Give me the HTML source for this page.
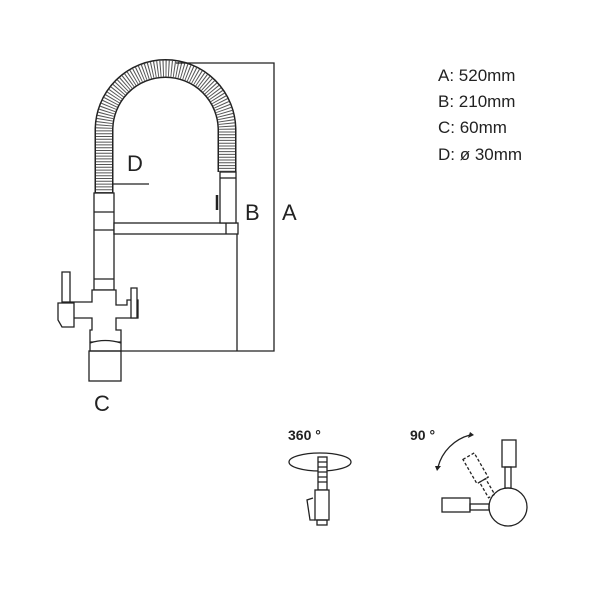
<!DOCTYPE html>
<html><head><meta charset="utf-8"><style>
body{margin:0;background:#fff}
svg{display:block}
text{font-family:"Liberation Sans",sans-serif;fill:#222}
</style></head><body>
<svg width="600" height="600" viewBox="0 0 600 600" xmlns="http://www.w3.org/2000/svg">
<g fill="none" stroke="#222" stroke-width="1.3">
<!-- hose -->
<path d="M104 193 V130 A61 61 0 0 1 227 130 V172" stroke="#222" stroke-width="19"/>
<path d="M104 193 V130 A61 61 0 0 1 227 130 V172" stroke="#fff" stroke-width="16"/>
<path d="M104 193 V130 A61 61 0 0 1 227 130 V172" stroke="#555" stroke-width="16" stroke-dasharray="1 1.8"/>
<!-- dims -->
<path d="M176 63 H274 V351 H120"/>
<path d="M237 234 V351"/>
<path d="M113 184 H149"/>
<!-- body -->
<rect x="94" y="193" width="20" height="97" fill="#fff"/>
<path d="M94 212 H114 M94 230 H114 M94 279 H114"/>
<rect x="114" y="223" width="124" height="11" fill="#fff"/>
<path d="M226 223 V234"/>
<rect x="220" y="172" width="16" height="51" fill="#fff"/>
<path d="M220 178 H236"/>
<path d="M217 195 V210" stroke-width="2.5"/>
<!-- valve -->
<path d="M92 290 H116 V305 H127 V300 H138 V318 H116 V330 H121 V342 H90 V330 H92 V318 H70 V302 H92 Z" fill="#fff"/>
<path d="M62 272 H70 V302 H62 Z M58 303 H74 V327 H62 L58 320 Z" fill="#fff"/>
<path d="M131 288 H137 V318 H131 Z" fill="#fff"/>
<path d="M90 343 Q105 338 121 343 V351 H90 Z" fill="#fff"/>
<rect x="89" y="351" width="32" height="30"/>
<!-- 360 icon -->
<ellipse cx="320" cy="462" rx="31" ry="9"/>
<rect x="318" y="457" width="9" height="33" fill="#fff" stroke="none"/>
<rect x="318" y="457" width="9" height="33"/>
<path d="M318 462 H327 M318 467 H327 M318 472 H327 M318 477 H327 M318 482 H327"/>
<rect x="315" y="490" width="14" height="30" fill="#fff"/>
<path d="M313 498 L307 500 L310 520 H315"/>
<rect x="317" y="520" width="10" height="5"/>
<!-- 90 icon -->
<path d="M438 467 A45 45 0 0 1 470 435"/>
<circle cx="508" cy="507" r="19" fill="#fff"/>
<rect x="505" y="467" width="6" height="21"/>
<rect x="502" y="440" width="14" height="27"/>
<rect x="470" y="504" width="19" height="6"/>
<rect x="442" y="498" width="28" height="14"/>
<g transform="rotate(-30 480 475)" stroke-dasharray="3 2">
<rect x="473" y="453" width="13" height="28"/>
<rect x="476" y="481" width="7" height="18"/>
</g>
</g>
<path d="M470 432 L474 435 L468 438 Z M435 466 L441 466 L437 471 Z" fill="#222"/>
<g font-size="22">
<text x="127" y="171">D</text>
<text x="245" y="220">B</text>
<text x="282" y="220">A</text>
<text x="94" y="411">C</text>
</g>
<g font-size="17">
<text x="438" y="81">A: 520mm</text>
<text x="438" y="107">B: 210mm</text>
<text x="438" y="133">C: 60mm</text>
<text x="438" y="160">D: ø 30mm</text>
</g>
<g font-size="14" font-weight="bold">
<text x="288" y="440">360 °</text>
<text x="410" y="440">90 °</text>
</g>
</svg>
</body></html>
